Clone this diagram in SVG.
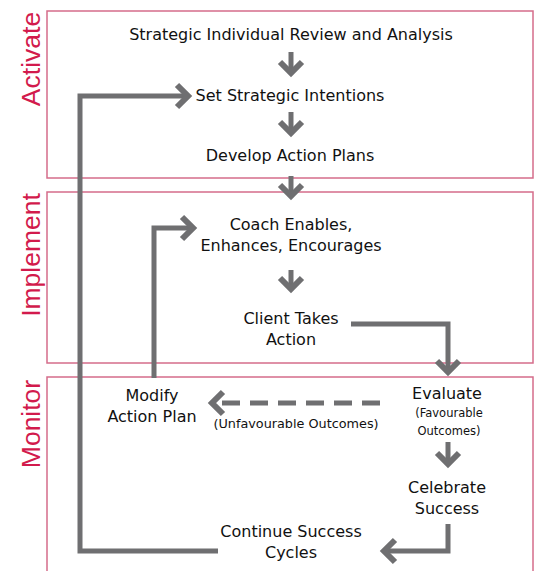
<svg xmlns="http://www.w3.org/2000/svg" width="537" height="571" viewBox="0 0 537 571">
<style>
.box{fill:none;stroke:#d56c8a;stroke-width:1.5}
.phase{font-family:"Liberation Sans","DejaVu Sans",sans-serif;font-size:26.5px;fill:#d21a4c;text-anchor:middle}
.t{font-family:"DejaVu Sans","Liberation Sans",sans-serif;font-size:16px;fill:#111;text-anchor:middle}
.s{font-family:"DejaVu Sans","Liberation Sans",sans-serif;font-size:11.5px;fill:#111;text-anchor:middle}
.u{font-size:12.8px}
.c{fill:none;stroke:#6f6f71;stroke-width:5;stroke-linejoin:miter;marker-end:url(#ah)}
.d{stroke-dasharray:18 10}
</style>
<defs>
<marker id="ah" markerUnits="userSpaceOnUse" markerWidth="40" markerHeight="40" viewBox="-20 -20 40 40" refX="0" refY="0" orient="auto" overflow="visible">
<path d="M-11,-11 L0,0 L-11,11" fill="none" stroke="#6f6f71" stroke-width="6" stroke-linejoin="miter"/>
</marker>
</defs>
<g id="phase-activate">
<rect class="box" x="47" y="11" width="486" height="167"/>
<text class="phase" transform="translate(40,59) rotate(-90)">Activate</text>
</g>
<g id="phase-implement">
<rect class="box" x="47" y="192" width="486" height="171"/>
<text class="phase" transform="translate(40,255) rotate(-90)">Implement</text>
</g>
<g id="phase-monitor">
<rect class="box" x="47" y="377" width="486" height="200"/>
<text class="phase" transform="translate(40,424) rotate(-90)">Monitor</text>
</g>
<g id="connectors">
<path class="c" d="M291,52 V73"/>
<path class="c" d="M291,112 V133"/>
<path class="c" d="M291,176 V196"/>
<path class="c" d="M291,270 V289"/>
<path class="c" d="M351,324 H448 V372"/>
<path class="c" d="M448,442 V464"/>
<path class="c" d="M448,524 V551 H384"/>
<path class="c" d="M218,551 H80 V96 H188"/>
<path class="c" d="M154,378 V228 H193"/>
<path class="c d" d="M380,403 H212"/>
</g>
<g id="n-review"><text class="t" x="291" y="40">Strategic Individual Review and Analysis</text></g>
<g id="n-intentions"><text class="t" x="290" y="101">Set Strategic Intentions</text></g>
<g id="n-plans"><text class="t" x="290" y="161">Develop Action Plans</text></g>
<g id="n-coach"><text class="t" x="291" y="230">Coach Enables,</text><text class="t" x="291" y="251">Enhances, Encourages</text></g>
<g id="n-client"><text class="t" x="291" y="324">Client Takes</text><text class="t" x="291" y="345">Action</text></g>
<g id="n-evaluate"><text class="t" x="447" y="399">Evaluate</text><text class="s" x="449" y="417">(Favourable</text><text class="s" x="449" y="435">Outcomes)</text></g>
<g id="n-modify"><text class="t" x="152" y="401">Modify</text><text class="t" x="152" y="422">Action Plan</text></g>
<g id="l-unfavourable"><text class="s u" x="296" y="428">(Unfavourable Outcomes)</text></g>
<g id="n-celebrate"><text class="t" x="447" y="493">Celebrate</text><text class="t" x="447" y="514">Success</text></g>
<g id="n-continue"><text class="t" x="291" y="537">Continue Success</text><text class="t" x="291" y="558">Cycles</text></g>
</svg>
